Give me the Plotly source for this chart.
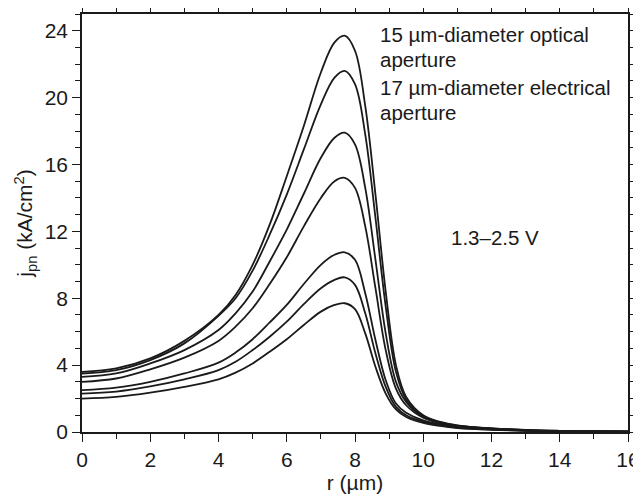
import plotly.graph_objects as go

r = [0, 1, 2, 3, 4, 4.5, 5, 5.5, 6, 6.5, 7, 7.4, 7.7, 8.0, 8.3, 8.6, 8.9, 9.2, 9.5, 10, 10.5, 11, 12, 13, 14, 15, 16]

j1 = [3.6, 3.8, 4.4, 5.45, 7.0, 8.2, 10.0, 12.4, 15.3, 18.3, 21.5, 23.3, 23.7, 22.8, 19.5, 14.2, 8.4, 4.0, 2.1, 1.0, 0.6, 0.4, 0.22, 0.12, 0.07, 0.04, 0.02]
j2 = [3.5, 3.7, 4.3, 5.3, 6.95, 8.0, 9.65, 11.8, 14.2, 16.9, 19.6, 21.2, 21.6, 20.8, 17.8, 12.8, 7.5, 3.6, 1.95, 0.95, 0.57, 0.38, 0.21, 0.11, 0.06, 0.04, 0.02]
j3 = [3.3, 3.5, 4.1, 4.9, 6.1, 7.1, 8.4, 10.2, 12.1, 14.25, 16.4, 17.6, 17.9, 17.2, 14.6, 10.3, 5.9, 3.0, 1.8, 0.9, 0.55, 0.36, 0.2, 0.11, 0.06, 0.04, 0.02]
j4 = [3.0, 3.2, 3.75, 4.45, 5.45, 6.3, 7.4, 8.85, 10.45, 12.3, 14.0, 15.0, 15.2, 14.6, 12.3, 8.6, 4.9, 2.6, 1.6, 0.85, 0.52, 0.34, 0.19, 0.1, 0.06, 0.03, 0.02]
j5 = [2.5, 2.65, 3.0, 3.5, 4.15, 4.75, 5.55, 6.55, 7.6, 8.85, 10.0, 10.6, 10.75, 10.3, 8.3, 5.5, 3.1, 1.7, 1.15, 0.7, 0.45, 0.3, 0.17, 0.09, 0.05, 0.03, 0.02]
j6 = [2.3, 2.42, 2.73, 3.15, 3.7, 4.2, 4.9, 5.7, 6.6, 7.65, 8.6, 9.1, 9.25, 8.8, 7.1, 4.7, 2.7, 1.5, 1.0, 0.62, 0.4, 0.27, 0.15, 0.08, 0.05, 0.03, 0.02]
j7 = [2.0, 2.1, 2.35, 2.7, 3.15, 3.55, 4.1, 4.8, 5.55, 6.4, 7.2, 7.6, 7.7, 7.35, 5.9, 3.9, 2.3, 1.35, 0.9, 0.55, 0.36, 0.24, 0.13, 0.07, 0.04, 0.03, 0.02]

series = [j1, j2, j3, j4, j5, j6, j7]

x_ticks = [0, 2, 4, 6, 8, 10, 12, 14, 16]
y_ticks = [0, 4, 8, 12, 16, 20, 24]

FONT = "Liberation Sans, Arial, Helvetica, sans-serif"
INK = "#1a1a1a"

fig = go.Figure()
for s in series:
    fig.add_trace(go.Scatter(x=r, y=s, mode="lines",
                             line=dict(color=INK, width=1.8, shape="spline", smoothing=1.0),
                             showlegend=False, hoverinfo="skip"))

axis_common = dict(showline=True, linecolor=INK, linewidth=1.5, mirror="allticks",
                   ticks="outside", ticklen=8, tickwidth=1.3, tickcolor=INK,
                   showgrid=False, zeroline=False, automargin=False,
                   tickfont=dict(family=FONT, size=21, color=INK))

fig.update_xaxes(range=[0, 16], tickvals=x_ticks,
                 minor=dict(dtick=1, ticks="outside", ticklen=5, tickwidth=1.2, tickcolor=INK),
                 title=dict(text="r (µm)", font=dict(family=FONT, size=21, color=INK), standoff=2),
                 **axis_common)
fig.update_yaxes(range=[0, 25], tickvals=y_ticks,
                 minor=dict(dtick=1, ticks="outside", ticklen=5, tickwidth=1.2, tickcolor=INK),
                 title=dict(text="j<sub>pn</sub> (kA/cm<sup>2</sup>)", font=dict(family=FONT, size=21, color=INK), standoff=6),
                 **axis_common)

notes = [
    (8.67, 23.76, "15 µm-diameter optical"),
    (8.67, 22.27, "aperture"),
    (8.67, 20.59, "17 µm-diameter electrical"),
    (8.67, 19.10, "aperture"),
    (10.76, 11.66, "1.3–2.5 V"),
]
for x, y, t in notes:
    fig.add_annotation(x=x, y=y, xref="x", yref="y", text=t, showarrow=False,
                       xanchor="left", yanchor="middle",
                       font=dict(family=FONT, size=20.5, color=INK))

# the page body adds an 8 px offset, so the figure is sized to fill the rest of the window
fig.update_layout(width=633, height=491, margin=dict(l=74, r=13, t=6, b=67),
                  paper_bgcolor="white", plot_bgcolor="white")

fig.write_html("out.html")
